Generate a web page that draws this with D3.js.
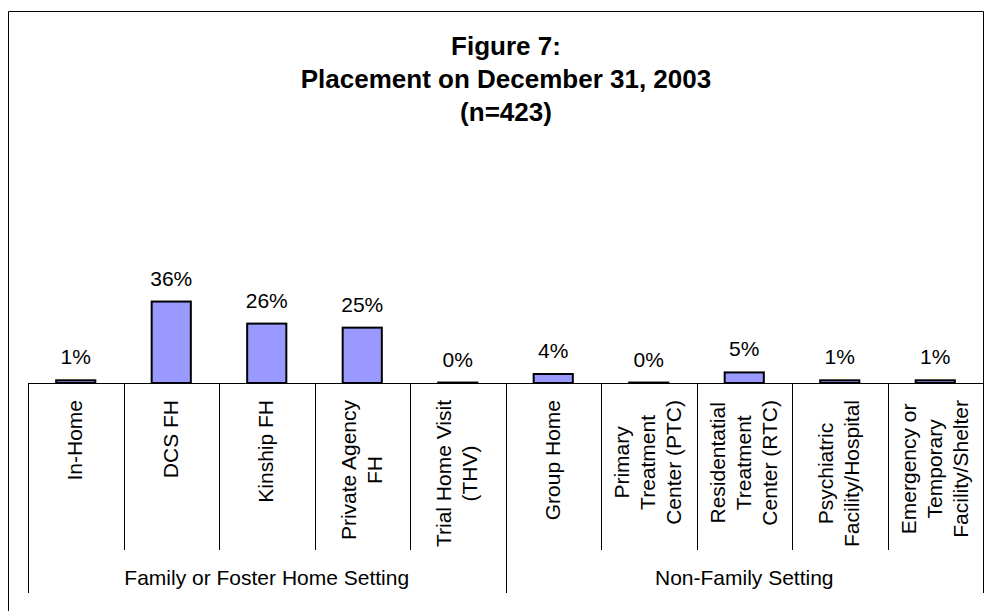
<!DOCTYPE html>
<html>
<head>
<meta charset="utf-8">
<script src="https://cdn.jsdelivr.net/npm/d3@7"></script>
<style>
  body { margin: 0; background: #fff; }
  svg { display: block; font-family: "Liberation Sans", Arial, sans-serif; }
</style>
</head>
<body>
<svg id="chart" width="992" height="611"></svg>
<script>
// Figure 7: placement on December 31, 2003 (n=423)

const titleLines = ["Figure 7:", "Placement on December 31, 2003", "(n=423)"];

const categories = [
  "In-Home",
  "DCS FH",
  "Kinship FH",
  "Private Agency FH",
  "Trial Home Visit (THV)",
  "Group Home",
  "Primary Treatment Center (PTC)",
  "Residentatial Treatment Center (RTC)",
  "Psychiatric Facility/Hospital",
  "Emergency or Temporary Facility/Shelter",
];

// how each category label wraps
const labelLines = [
  ["In-Home"],
  ["DCS FH"],
  ["Kinship FH"],
  ["Private Agency", "FH"],
  ["Trial Home Visit", "(THV)"],
  ["Group Home"],
  ["Primary", "Treatment", "Center (PTC)"],
  ["Residentatial", "Treatment", "Center (RTC)"],
  ["Psychiatric", "Facility/Hospital"],
  ["Emergency or", "Temporary", "Facility/Shelter"],
];

const percents = [1.2, 36.2, 26.4, 24.6, 0.2, 4.0, 0.2, 4.7, 1.2, 1.2];

const groups = ["Family or Foster Home Setting", "Non-Family Setting"];
const groupSizes = [5, 5];

const svg = d3.select("#chart");

const left = 28;
const right = 983;
const baseY = 383;

const x = d3.scaleBand().domain(categories).range([left, right]).padding(0);
const y = d3.scaleLinear().domain([0, 40]).range([baseY, 293]);
const fmt = (v) => d3.format(".0f")(v) + "%";

// outer frame
svg.append("path")
  .attr("d", "M8.5,611 V11.5 H983.5 V593")
  .attr("fill", "none")
  .attr("stroke", "#000")
  .attr("stroke-width", 1);

// title
svg.append("g")
  .selectAll("text")
  .data(titleLines)
  .join("text")
  .attr("x", 506)
  .attr("y", (d, i) => 55 + i * 33)
  .attr("text-anchor", "middle")
  .attr("font-size", 26)
  .attr("font-weight", "bold")
  .text((d) => d);

// bars
const barW = x.bandwidth() * 0.41;
const bars = svg.append("g");
bars.selectAll("rect")
  .data(categories)
  .join("rect")
  .attr("x", (d) => x(d) + (x.bandwidth() - barW) / 2)
  .attr("y", (d, i) => y(percents[i]))
  .attr("width", barW)
  .attr("height", (d, i) => baseY - y(percents[i]))
  .attr("fill", "#9999ff")
  .attr("stroke", "#000")
  .attr("stroke-width", 2);

// value labels
svg.append("g")
  .selectAll("text")
  .data(categories)
  .join("text")
  .attr("x", (d) => x(d) + x.bandwidth() / 2)
  .attr("y", (d, i) => y(percents[i]) - 16)
  .attr("text-anchor", "middle")
  .attr("font-size", 21)
  .text((d, i) => fmt(percents[i]));

// axis line + category separators
const axis = svg.append("g").attr("stroke", "#000").attr("stroke-width", 1);
axis.append("line")
  .attr("x1", left).attr("x2", right)
  .attr("y1", baseY + 0.5).attr("y2", baseY + 0.5);

const edges = categories.map((c) => x(c)).concat([right]);
axis.selectAll("line.sep")
  .data(edges)
  .join("line")
  .attr("class", "sep")
  .attr("x1", (d) => Math.round(d) + 0.5)
  .attr("x2", (d) => Math.round(d) + 0.5)
  .attr("y1", baseY)
  .attr("y2", 550);

// group separators go down further
let start = 0;
const groupSpans = groupSizes.map((n) => {
  const s = { from: categories[start], to: categories[start + n - 1] };
  start += n;
  return s;
});
const groupEdges = [left].concat(groupSpans.map((g) => x(g.to) + x.bandwidth()));
axis.selectAll("line.grp")
  .data(groupEdges)
  .join("line")
  .attr("class", "grp")
  .attr("x1", (d) => Math.round(d) + 0.5)
  .attr("x2", (d) => Math.round(d) + 0.5)
  .attr("y1", 550)
  .attr("y2", 593);

svg.append("g")
  .selectAll("text")
  .data(groups)
  .join("text")
  .attr("x", (d, i) => (x(groupSpans[i].from) + x(groupSpans[i].to) + x.bandwidth()) / 2)
  .attr("y", 585)
  .attr("text-anchor", "middle")
  .attr("font-size", 21)
  .text((d) => d);

// rotated category labels, block top-aligned under the axis
const lineGap = 26;
const labelTop = 400;
const cat = svg.append("g")
  .selectAll("g")
  .data(categories)
  .join("g");

cat.each(function (d, i) {
  const g = d3.select(this);
  const lines = labelLines[i];
  const texts = g.selectAll("text")
    .data(lines)
    .join("text")
    .attr("font-size", 21)
    .attr("text-anchor", "middle")
    .text((t) => t);
  let longest = 0;
  texts.each(function () {
    longest = Math.max(longest, this.getComputedTextLength());
  });
  const cx = x(d) + x.bandwidth() / 2;
  const cy = labelTop + longest / 2;
  texts.attr("transform", (t, j) => {
    const lx = cx + (j - (lines.length - 1) / 2) * lineGap + 6.5;
    return `translate(${lx},${cy}) rotate(-90)`;
  });
});
</script>
</body>
</html>
